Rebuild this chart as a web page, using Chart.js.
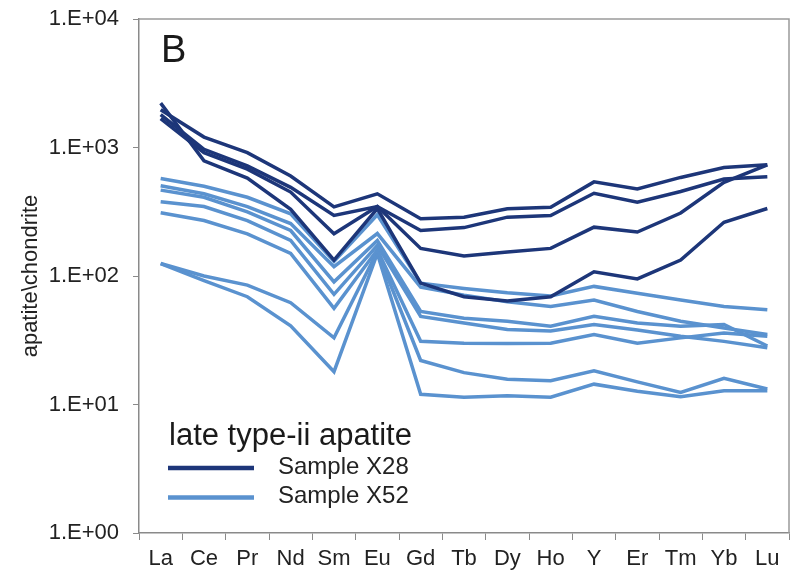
<!DOCTYPE html>
<html>
<head>
<meta charset="utf-8">
<title>REE pattern - late type-ii apatite</title>
<script src="https://cdn.jsdelivr.net/npm/chart.js@4.4.1/dist/chart.umd.min.js"></script>
<style>
  html, body { margin: 0; padding: 0; background: #fff; }
  #wrap { width: 793px; height: 577px; position: relative; }
</style>
</head>
<body>
<div id="wrap"><canvas id="chart"></canvas></div>
<script>
// categories (x axis)
const elements = ['La', 'Ce', 'Pr', 'Nd', 'Sm', 'Eu', 'Gd', 'Tb', 'Dy', 'Ho', 'Y', 'Er', 'Tm', 'Yb', 'Lu'];

// y axis ticks
const yTickValues = [1, 10, 100, 1000, 10000];
const yTickLabels = ['1.E+00', '1.E+01', '1.E+02', '1.E+03', '1.E+04'];

// Sample X28 (dark blue), apatite / chondrite
const x28a = [1970, 1205, 912, 600, 345, 436, 279, 287, 333, 343, 540, 476, 585, 698, 733];
const x28b = [1800, 968, 719, 490, 296, 347, 226, 238, 287, 296, 440, 375, 455, 568, 592];
const x28c = [1675, 912, 679, 450, 213, 347, 164, 143, 154, 164, 240, 220, 309, 535, 733];
const x28d = [2213, 787, 578, 330, 133, 335, 88, 69, 64, 69, 108, 95, 133, 262, 335];

// Sample X52 (light blue)
const x52a = [573, 500, 410, 305, 130, 300, 88, 80, 74, 70, 83, 73.5, 65, 58, 54.6];
const x52b = [504, 437, 347, 256, 118, 214, 82, 71, 63, 58, 65, 53, 44.5, 39.4, 35];
const x52c = [466, 410, 315, 226, 90, 189, 53, 47, 44.5, 40.6, 48.5, 43, 40.6, 42, 28.5];
const x52d = [379, 347, 270, 189, 72, 173, 48.5, 43, 38.4, 37.3, 42, 38, 34, 31, 27.6];
const x52e = [311, 270, 213, 150, 56, 160, 31, 30, 29.8, 30, 35, 30, 33, 36, 34];
const x52f = [125, 100, 85, 62, 33, 155, 22, 17.7, 15.7, 15.3, 18.3, 15, 12.4, 16, 13.2];
const x52g = [125, 92, 69, 41, 18, 150, 12, 11.4, 11.7, 11.4, 14.4, 12.7, 11.5, 12.8, 12.8];

const darkBlue = '#1d3679';
const lightBlue = '#5a92cf';
const axisGrey = '#8a8a8a';
const fontFamily = "'Liberation Sans', Arial, Helvetica, sans-serif";

const x28Series = [x28a, x28b, x28c, x28d];
const x52Series = [x52a, x52b, x52c, x52d, x52e, x52f, x52g];

function lineSet(label, data, color) {
    return {
        label: label,
        data: data,
        borderColor: color,
        backgroundColor: color,
        borderWidth: 3.5,
        pointRadius: 0,
        pointHoverRadius: 0,
        tension: 0,
        fill: false
    };
}

const datasets = [];
x28Series.forEach((s, i) => datasets.push(lineSet('Sample X28 #' + (i + 1), s, darkBlue)));
x52Series.forEach((s, i) => datasets.push(lineSet('Sample X52 #' + (i + 1), s, lightBlue)));

// box around plot, panel letter and the legend inside the plot
const decorations = {
    id: 'decorations',
    afterDraw(chart) {
        const {ctx, chartArea} = chart;
        ctx.save();

        ctx.strokeStyle = '#9a9a9a';
        ctx.lineWidth = 1.5;
        ctx.beginPath();
        ctx.moveTo(chartArea.left, chartArea.top);
        ctx.lineTo(chartArea.right, chartArea.top);
        ctx.lineTo(chartArea.right, chartArea.bottom);
        ctx.stroke();

        ctx.fillStyle = '#1a1a1a';
        ctx.textBaseline = 'alphabetic';
        ctx.textAlign = 'left';
        ctx.font = '38px ' + fontFamily;
        ctx.fillText('B', 161, 62);

        ctx.font = '31px ' + fontFamily;
        ctx.fillText('late type-ii apatite', 169, 445);

        ctx.lineWidth = 4.5;
        ctx.strokeStyle = darkBlue;
        ctx.beginPath();
        ctx.moveTo(168, 468);
        ctx.lineTo(254, 468);
        ctx.stroke();
        ctx.strokeStyle = lightBlue;
        ctx.beginPath();
        ctx.moveTo(168, 497.5);
        ctx.lineTo(254, 497.5);
        ctx.stroke();

        ctx.font = '24px ' + fontFamily;
        ctx.textBaseline = 'middle';
        ctx.fillStyle = '#222';
        ctx.fillText('Sample X28', 278, 467);
        ctx.fillText('Sample X52', 278, 496);

        ctx.restore();
    }
};

new Chart(document.getElementById('chart'), {
    type: 'line',
    data: {
        labels: elements,
        datasets: datasets
    },
    options: {
        responsive: true,
        maintainAspectRatio: false,
        animation: false,
        layout: {
            padding: {left: 0, right: 4, top: 19, bottom: 0}
        },
        plugins: {
            legend: {display: false},
            tooltip: {enabled: false}
        },
        scales: {
            x: {
                type: 'category',
                offset: true,
                grid: {
                    display: true,
                    offset: true,
                    drawOnChartArea: false,
                    drawTicks: true,
                    tickLength: 7,
                    color: axisGrey
                },
                border: {color: axisGrey, width: 1.5},
                ticks: {
                    color: '#222',
                    padding: 6,
                    maxRotation: 0,
                    autoSkip: false,
                    font: {family: fontFamily, size: 22}
                },
                afterFit(scale) {
                    scale.height = 44;
                    scale.paddingLeft = 0;
                    scale.paddingRight = 0;
                }
            },
            y: {
                type: 'logarithmic',
                min: 1,
                max: 10000,
                afterBuildTicks(scale) {
                    scale.ticks = yTickValues.map(v => ({value: v, major: true}));
                },
                grid: {
                    display: true,
                    drawOnChartArea: false,
                    drawTicks: true,
                    tickLength: 6,
                    color: axisGrey
                },
                border: {color: axisGrey, width: 1.5},
                ticks: {
                    color: '#222',
                    padding: 14,
                    font: {family: fontFamily, size: 22},
                    callback(value) {
                        const i = yTickValues.indexOf(value);
                        return i >= 0 ? yTickLabels[i] : '';
                    }
                },
                title: {
                    display: true,
                    text: 'apatite\\chondrite',
                    color: '#222',
                    font: {family: fontFamily, size: 22},
                    padding: {top: 18, bottom: 0}
                },
                afterFit(scale) {
                    scale.width = 139;
                    scale.paddingTop = 0;
                    scale.paddingBottom = 0;
                }
            }
        }
    },
    plugins: [decorations]
});
</script>
</body>
</html>
